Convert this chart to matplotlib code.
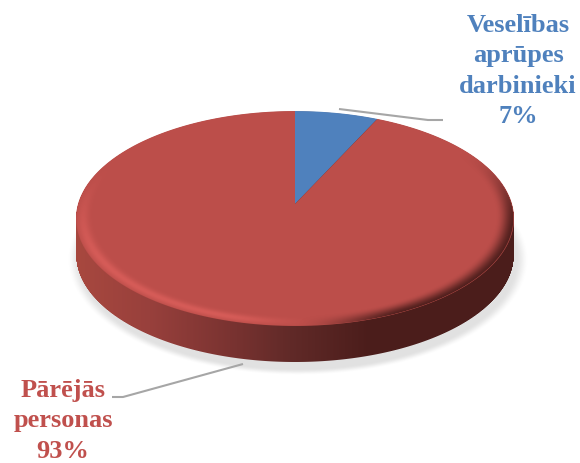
import numpy as np
import matplotlib
matplotlib.use("Agg")
import matplotlib.pyplot as plt
from matplotlib.path import Path
from matplotlib.transforms import Transform, Affine2D

categories = ["Veselības\naprūpes\ndarbinieki", "Pārējās\npersonas"]
values = [7, 93]
colors = ["#4F81BD", "#BC4E4A"]
label_colors = ["#4F81BD", "#C0504D"]

W, H = 580, 464
CX, APEX, A, B, K = 295.0, 205.0, 105.5, 217.0, 0.135
RX, CY, RY, DEPTH = 219.0, 219.5, 107.5, 36.0


class Persp(Transform):
    input_dims = output_dims = 2
    is_affine = False
    has_inverse = False

    def transform_non_affine(self, pts):
        pts = np.asarray(pts, float)
        u, v = pts[:, 0], pts[:, 1]
        d = 1 + K * v
        return np.column_stack([CX + B * u / d, APEX - A * v / d])

    def transform_path_non_affine(self, path):
        poly = path.transformed(Affine2D().scale(1000)).to_polygons()[0] / 1000
        return Path(self.transform_non_affine(poly))


fig = plt.figure(figsize=(W / 100, H / 100), dpi=100)
ax = fig.add_axes([0, 0, 1, 1])

yy, xx = np.mgrid[0:H, 0:W] + 0.5


def smooth(t):
    t = np.clip(t, 0, 1)
    return t * t * (3 - 2 * t)


def hexrgb(c):
    return np.array(matplotlib.colors.to_rgb(c))


def layer(rgb, alpha, z):
    img = np.dstack([rgb, alpha])
    ax.imshow(img, extent=(0, W, H, 0), aspect="auto", zorder=z, interpolation="bilinear")


# soft shadow
dsh = np.sqrt(((xx - CX - 3) / (RX + 5)) ** 2 + ((yy - CY - DEPTH - 5) / (RY + 5)) ** 2)
shadow_a = 0.26 * smooth((1.03 - dsh) / 0.06)
layer(np.full((H, W, 3), 0.55), shadow_a, 1)

# side wall, horizontal gradient
dx = np.clip((xx - CX) / RX, -1, 1)
arc = RY * np.sqrt(1 - dx ** 2)
cov = np.clip(CY + DEPTH + arc - yy + 0.5, 0, 1) * np.clip(yy - (CY - arc), 0, 1) * np.clip(RX - np.abs(xx - CX) + 0.5, 0, 1)
stops_x = [76, 150, 230, 290, 370, 514]
stops = [hexrgb(c) for c in ["#A8483F", "#98403C", "#7A3331", "#612A28", "#4B1D1B", "#4B1D1B"]]
side_rgb = np.dstack([np.interp(xx, stops_x, [s[i] for s in stops]) for i in range(3)])
layer(side_rgb, cov, 2)

# pie
wedges, _ = ax.pie(values, colors=colors, startangle=90, counterclock=False,
                   radius=1, center=(0, 0), frame=True,
                   wedgeprops={"linewidth": 0})
persp = Persp()
for w in wedges:
    w.set_transform(persp + ax.transData)
    w.set_zorder(3)

# bevel on the pie rim
vv = (APEX - yy) / (A - K * (APEX - yy))
uu = (xx - CX) * (1 + K * vv) / B
rr = np.sqrt(uu ** 2 + vv ** 2)
t = (rr - 0.915) / 0.085
edge = np.clip((1.0 - rr) * 200, 0, 1)
sx = (xx - CX) / RX
front = smooth((0.45 - vv) / 1.0)
light = smooth((0.12 - sx) / 0.45) * front
dark = smooth((sx - 0.0) / 0.5) * smooth((0.55 - vv) / 0.8)
bump = np.exp(-((t - 0.62) / 0.3) ** 2)
hi_a = 0.55 * light * bump * edge
dk_a = 0.95 * dark * smooth(t) ** 1.2 * edge
layer(np.broadcast_to(hexrgb("#EA6763"), (H, W, 3)), hi_a * (t > 0), 4)
layer(np.broadcast_to(hexrgb("#4B1D1B"), (H, W, 3)), dk_a * (t > 0), 5)

# labels and leader lines
ax.plot([339, 428, 443], [110, 121, 121], color="#A6A6A6", lw=1.5, zorder=6, solid_capstyle="butt")
ax.plot([112, 123, 243], [398, 398, 365], color="#A6A6A6", lw=1.5, zorder=6, solid_capstyle="butt")
pos = [(518, 71), (63, 421)]
for name, val, c, (x, y) in zip(categories, values, label_colors, pos):
    ax.text(x, y, f"{name}\n{val}%", color=c, ha="center", va="center", family="Liberation Serif",
            weight="bold", fontsize=19, linespacing=1.41, zorder=7)

ax.set_aspect("auto")
ax.set_xlim(0, W)
ax.set_ylim(H, 0)
ax.axis("off")
fig.savefig("out.png", dpi=100, facecolor="white")
